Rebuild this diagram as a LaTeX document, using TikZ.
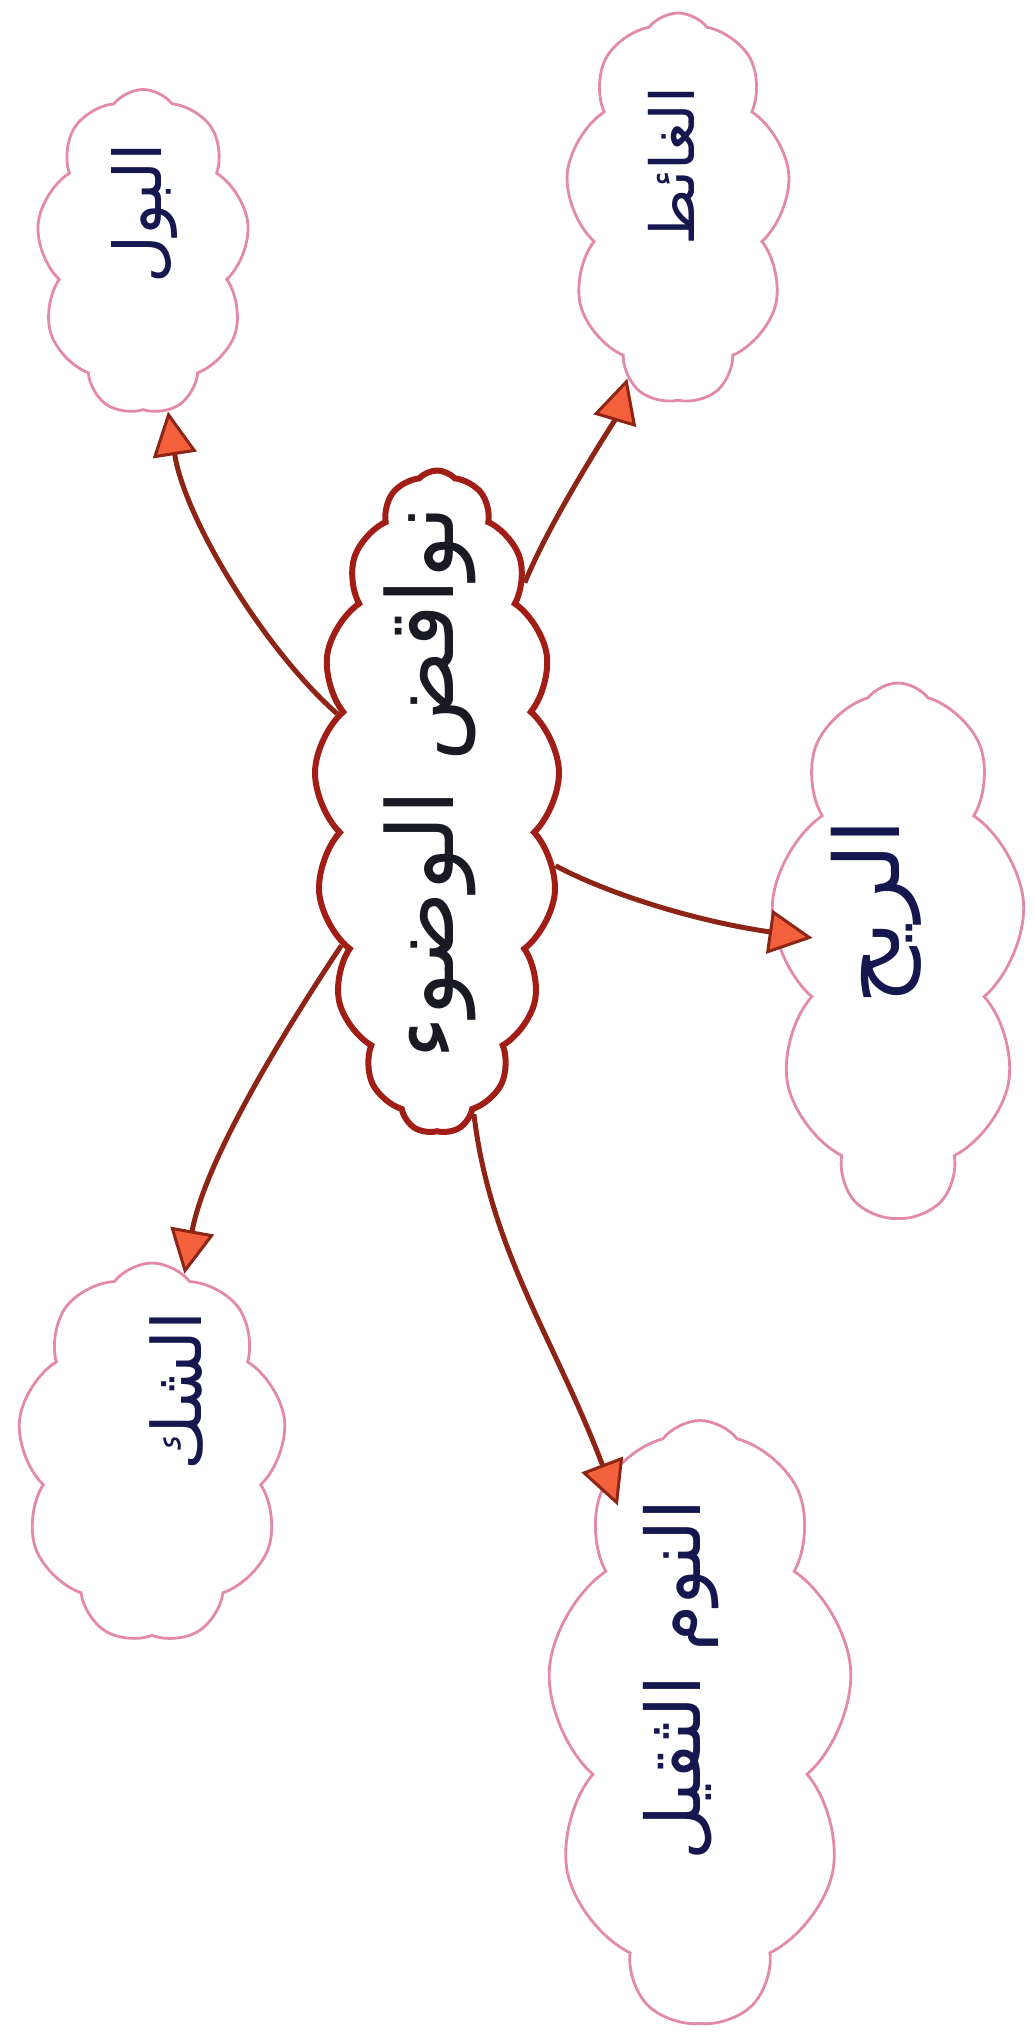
\documentclass[tikz,border=0pt]{standalone}
\usepackage{fontspec}
\usepackage{graphicx}
\usetikzlibrary{shapes.symbols,arrows.meta}
\TeXXeTstate=1
\newfontfamily\arabicfont[Script=Arabic]{DejaVu Sans}
\definecolor{mainline}{HTML}{A01E16}
\definecolor{subline}{HTML}{E28AA6}
\definecolor{connline}{HTML}{8E2416}
\definecolor{tipfill}{HTML}{F2603C}
\definecolor{txtcol}{HTML}{15184F}
\definecolor{maintxt}{HTML}{1A1A24}
\begin{document}
\begin{tikzpicture}[x=1pt,y=1pt,
  maincloud/.style={cloud, cloud puffs=17, cloud puff arc=95, cloud ignores aspect, draw=mainline, line width=6pt, inner sep=0pt},
  subcloud/.style={cloud, cloud puffs=9, cloud puff arc=105, cloud ignores aspect, draw=subline, line width=2.8pt, inner sep=0pt},
  lbl/.style={rotate=90, text=txtcol, inner sep=0pt},
  conn/.style={draw=connline, line width=5pt, -{Triangle[length=44pt,width=44pt,fill=tipfill,line width=3pt]}}
]
\fill[white] (0,0) rectangle (1033,-2033);
\useasboundingbox (0,0) rectangle (1033,-2033);
% clouds
\node[maincloud, minimum width=245pt, minimum height=663pt] (c) at (437,-802) {};
\node[subcloud, minimum width=213pt, minimum height=325pt] (b1) at (143,-252) {};
\node[subcloud, minimum width=225pt, minimum height=390pt] (b2) at (678,-208) {};
\node[subcloud, minimum width=255pt, minimum height=534pt] (b3) at (898,-950) {};
\node[subcloud, minimum width=269pt, minimum height=380pt] (b4) at (152,-1453) {};
\node[subcloud, minimum width=306pt, minimum height=603pt] (b5) at (700,-1722) {};
% labels
\node[lbl, text=maintxt] (t0) at (430,-783) {\resizebox{553pt}{!}{\arabicfont\beginR نواقض الوضوء\endR}};
\node[lbl] (t1) at (145,-213) {\resizebox{140pt}{!}{\arabicfont\beginR البول\endR}};
\node[lbl] (t2) at (671,-166) {\resizebox{158pt}{!}{\arabicfont\beginR الغائط\endR}};
\node[lbl] (t3) at (876,-912) {\resizebox{185pt}{!}{\arabicfont\beginR الريح\endR}};
\node[lbl] (t4) at (177,-1391) {\resizebox{158pt}{!}{\arabicfont\beginR الشك\endR}};
\node[lbl] (t5) at (681,-1680) {\resizebox{360pt}{!}{\arabicfont\beginR النوم الثقيل\endR}};
% connectors
\draw[conn] (c) .. controls (265,-650) and (185,-520) .. (b1);
\draw[conn] (c) .. controls (550,-520) and (615,-420) .. (b2);
\draw[conn, shorten >=-40pt] (c) .. controls (610,-895) and (700,-922) .. (b3);
\draw[conn] (c) .. controls (285,-1030) and (205,-1160) .. (b4);
\draw[conn, shorten >=-30pt] (c) .. controls (490,-1250) and (555,-1340) .. (b5);
\end{tikzpicture}
\end{document}
